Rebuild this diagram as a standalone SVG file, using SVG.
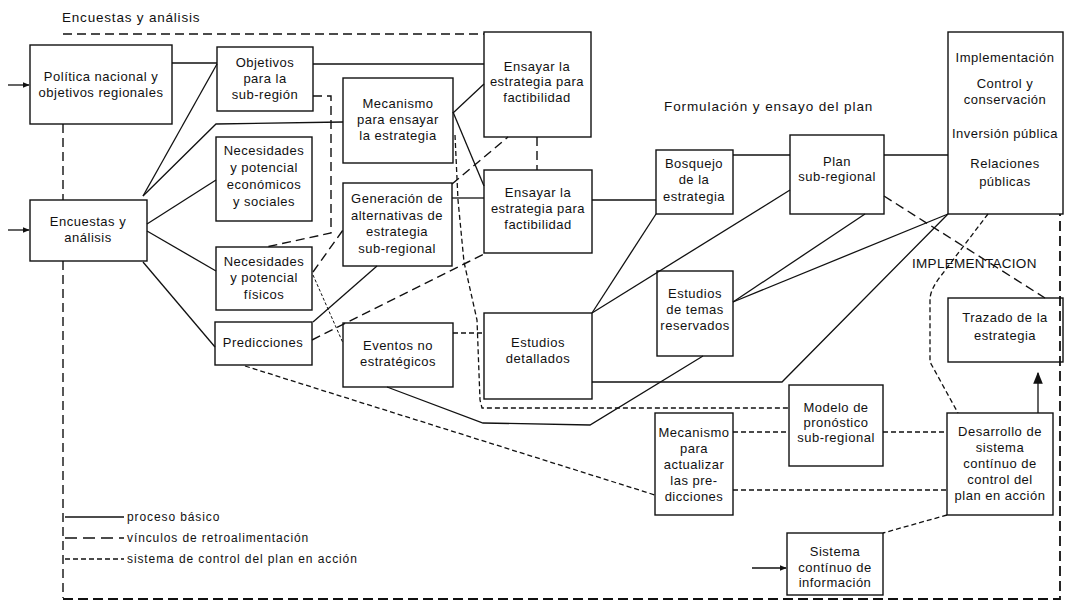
<svg xmlns="http://www.w3.org/2000/svg" width="1065" height="608" viewBox="0 0 1065 608">
<style>
.bg{fill:#fff}
.box{fill:none;stroke:#111;stroke-width:1.4}
text{font-family:"Liberation Sans",Arial,sans-serif;font-size:13px;fill:#111;text-anchor:middle;letter-spacing:0.5px}
.lbl{text-anchor:start;font-size:13.5px}
.leg{text-anchor:start;font-size:12px;letter-spacing:0.9px}
.s{fill:none;stroke:#111;stroke-width:1.3}
.fb{fill:none;stroke:#111;stroke-width:1.4;stroke-dasharray:9 5}
.cs{fill:none;stroke:#111;stroke-width:1.3;stroke-dasharray:5 3}
.fn{fill:none;stroke:#111;stroke-width:1;stroke-dasharray:3 2}
.fr{fill:none;stroke:#111;stroke-width:1.8;stroke-dasharray:10 5}
</style>
<defs>
<marker id="ah" viewBox="0 0 10 10" refX="9" refY="5" markerWidth="7" markerHeight="7" orient="auto" markerUnits="userSpaceOnUse"><path d="M0,1 L10,5 L0,9 z" fill="#111"/></marker>
<marker id="ahb" viewBox="0 0 10 10" refX="9" refY="5" markerWidth="12" markerHeight="12" orient="auto" markerUnits="userSpaceOnUse"><path d="M0,1 L10,5 L0,9 z" fill="#111"/></marker>
</defs>
<rect class="bg" x="0" y="0" width="1065" height="608"/>

<text class="lbl" x="62" y="22" style="letter-spacing:0.8px">Encuestas y análisis</text>
<text class="lbl" x="664" y="111" style="letter-spacing:0.9px">Formulación y ensayo del plan</text>
<text class="lbl" x="912" y="268" style="letter-spacing:0.3px">IMPLEMENTACION</text>

<g id="connectors">
  <!-- frame -->
  <path class="fb" d="M63,34 L484,34"/>
  <path class="fb" d="M63,124 L63,200"/>
  <path class="fb" d="M63,261 L63,598"/>
  <path class="fr" d="M63,599 L1060,599 L1060,214"/>
  <!-- input arrows -->
  <path class="s" d="M8,85 L29,85" marker-end="url(#ah)"/>
  <path class="s" d="M8,230 L29,230" marker-end="url(#ah)"/>
  <path class="s" d="M752,568 L786,568" stroke-width="1.8" marker-end="url(#ah)"/>
  <path class="s" d="M1038,413 L1038,373" stroke-width="3" marker-end="url(#ahb)"/>
  <!-- solid basic process -->
  <path class="s" d="M172,63 L217,63"/>
  <path class="s" d="M313,64 L484,64"/>
  <path class="s" d="M143,196 L217,64"/>
  <path class="s" d="M143,196 L216,124 L343,122"/>
  <path class="s" d="M147,224 L216,180"/>
  <path class="s" d="M147,231 L216,271"/>
  <path class="s" d="M143,262 L215,347"/>
  <path class="s" d="M453,113 L484,84"/>
  <path class="s" d="M453,112 L484,186"/>
  <path class="s" d="M452,198 L484,198"/>
  <path class="s" d="M313,322 L377,266"/>
  <path class="s" d="M592,200 L656,200"/>
  <path class="s" d="M733,155 L790,155"/>
  <path class="s" d="M884,155 L948,155"/>
  <path class="s" d="M592,313 L656,214"/>
  <path class="s" d="M592,313 L790,190"/>
  <path class="s" d="M733,302 L865,214"/>
  <path class="s" d="M733,302 L948,214"/>
  <path class="s" d="M592,382 L782,382 L948,214"/>
  <path class="s" d="M387,387 L483,423 L590,425 L703,356"/>
  <!-- feedback links -->
  <path class="fb" d="M313,96 L331,96 L331,233 L266,247"/>
  <path class="fb" d="M313,272 L343,230"/>
  <path class="fb" d="M312,340 L468,262 L484,254"/>
  <path class="fb" d="M452,184 L508,137"/>
  <path class="fb" d="M537,137 L537,170"/>
  <path class="fb" d="M884,196 L1045,298"/>
  <path class="fn" d="M313,275 L343,343"/>
  <path class="cs" d="M453,333 L484,333"/>
  <!-- control system -->
  <path class="cs" d="M455,135 L458,200 L464,262 L477,320 L480,400 L482,408 L789,408"/>
  <path class="cs" d="M245,366 L655,495"/>
  <path class="cs" d="M988,214 L940,277 Q930,290 930,300 L930,362 L958,413"/>
  <path class="cs" d="M733,432 L789,432"/>
  <path class="cs" d="M883,432 L947,432"/>
  <path class="cs" d="M733,490 L947,490"/>
  <path class="cs" d="M947,515 L883,533"/>
  <!-- legend -->
  <path class="s" d="M65,517 L124,517"/>
  <path class="fb" d="M65,538 L124,538" style="stroke-dasharray:12 6"/>
  <path class="cs" d="M65,559 L124,559"/>
</g>
<text class="leg" x="127" y="521">proceso básico</text>
<text class="leg" x="127" y="542">vínculos de retroalimentación</text>
<text class="leg" x="127" y="563">sistema de control del plan en acción</text>

<g id="politica"><rect class="box" x="30" y="45" width="142" height="79"/>
<text x="101" y="81">Política nacional y</text><text x="101" y="97">objetivos regionales</text></g>

<g id="encuestas"><rect class="box" x="30" y="200" width="117" height="61"/>
<text x="88" y="226">Encuestas y</text><text x="88" y="242">análisis</text></g>

<g id="objetivos"><rect class="box" x="217" y="47" width="96" height="64"/>
<text x="265" y="67">Objetivos</text><text x="265" y="83">para la</text><text x="265" y="99">sub-región</text></g>

<g id="nec-eco"><rect class="box" x="216" y="137" width="96" height="84"/>
<text x="264" y="155">Necesidades</text><text x="264" y="172">y potencial</text><text x="264" y="189">económicos</text><text x="264" y="206">y sociales</text></g>

<g id="nec-fis"><rect class="box" x="216" y="247" width="96" height="63"/>
<text x="264" y="266">Necesidades</text><text x="264" y="282">y potencial</text><text x="264" y="299">físicos</text></g>

<g id="predicciones"><rect class="box" x="215" y="322" width="97" height="43"/>
<text x="263" y="347">Predicciones</text></g>

<g id="mecanismo"><rect class="box" x="343" y="78" width="110" height="85"/>
<text x="398" y="108">Mecanismo</text><text x="398" y="124">para ensayar</text><text x="398" y="140">la estrategia</text></g>

<g id="generacion"><rect class="box" x="343" y="183" width="109" height="83"/>
<text x="397" y="203">Generación de</text><text x="397" y="220">alternativas de</text><text x="397" y="236">estrategia</text><text x="397" y="253">sub-regional</text></g>

<g id="eventos"><rect class="box" x="343" y="323" width="110" height="64"/>
<text x="398" y="350">Eventos no</text><text x="398" y="366">estratégicos</text></g>

<g id="ensayar1"><rect class="box" x="484" y="32" width="107" height="105"/>
<text x="537" y="71">Ensayar la</text><text x="537" y="86">estrategia para</text><text x="537" y="102">factibilidad</text></g>

<g id="ensayar2"><rect class="box" x="484" y="170" width="108" height="83"/>
<text x="538" y="197">Ensayar la</text><text x="538" y="213">estrategia para</text><text x="538" y="229">factibilidad</text></g>

<g id="estudios-det"><rect class="box" x="484" y="313" width="108" height="86"/>
<text x="538" y="347">Estudios</text><text x="538" y="363">detallados</text></g>

<g id="bosquejo"><rect class="box" x="656" y="150" width="77" height="64"/>
<text x="694" y="168">Bosquejo</text><text x="694" y="184">de la</text><text x="694" y="201">estrategia</text></g>

<g id="plan"><rect class="box" x="790" y="135" width="94" height="79"/>
<text x="837" y="166">Plan</text><text x="837" y="181">sub-regional</text></g>

<g id="estudios-temas"><rect class="box" x="657" y="271" width="76" height="85"/>
<text x="695" y="298">Estudios</text><text x="695" y="314">de temas</text><text x="695" y="330">reservados</text></g>

<g id="implementacion"><rect class="box" x="948" y="32" width="115" height="182"/>
<text x="1005" y="62">Implementación</text><text x="1005" y="88">Control y</text><text x="1005" y="104">conservación</text><text x="1005" y="138">Inversión pública</text><text x="1005" y="168">Relaciones</text><text x="1005" y="186">públicas</text></g>

<g id="trazado"><rect class="box" x="948" y="298" width="115" height="64"/>
<text x="1005" y="322">Trazado de la</text><text x="1005" y="340">estrategia</text></g>

<g id="modelo"><rect class="box" x="789" y="385" width="94" height="81"/>
<text x="836" y="412">Modelo de</text><text x="836" y="427">pronóstico</text><text x="836" y="442">sub-regional</text></g>

<g id="mec-actualizar"><rect class="box" x="655" y="413" width="78" height="102"/>
<text x="694" y="437">Mecanismo</text><text x="694" y="453">para</text><text x="694" y="469">actualizar</text><text x="694" y="485">las pre-</text><text x="694" y="501">dicciones</text></g>

<g id="desarrollo"><rect class="box" x="947" y="413" width="106" height="102"/>
<text x="1000" y="436">Desarrollo de</text><text x="1000" y="452">sistema</text><text x="1000" y="468">contínuo de</text><text x="1000" y="484">control del</text><text x="1000" y="500">plan en acción</text></g>

<g id="sistema"><rect class="box" x="787" y="533" width="96" height="62"/>
<text x="835" y="556">Sistema</text><text x="835" y="572">contínuo de</text><text x="835" y="587">información</text></g>
</svg>
